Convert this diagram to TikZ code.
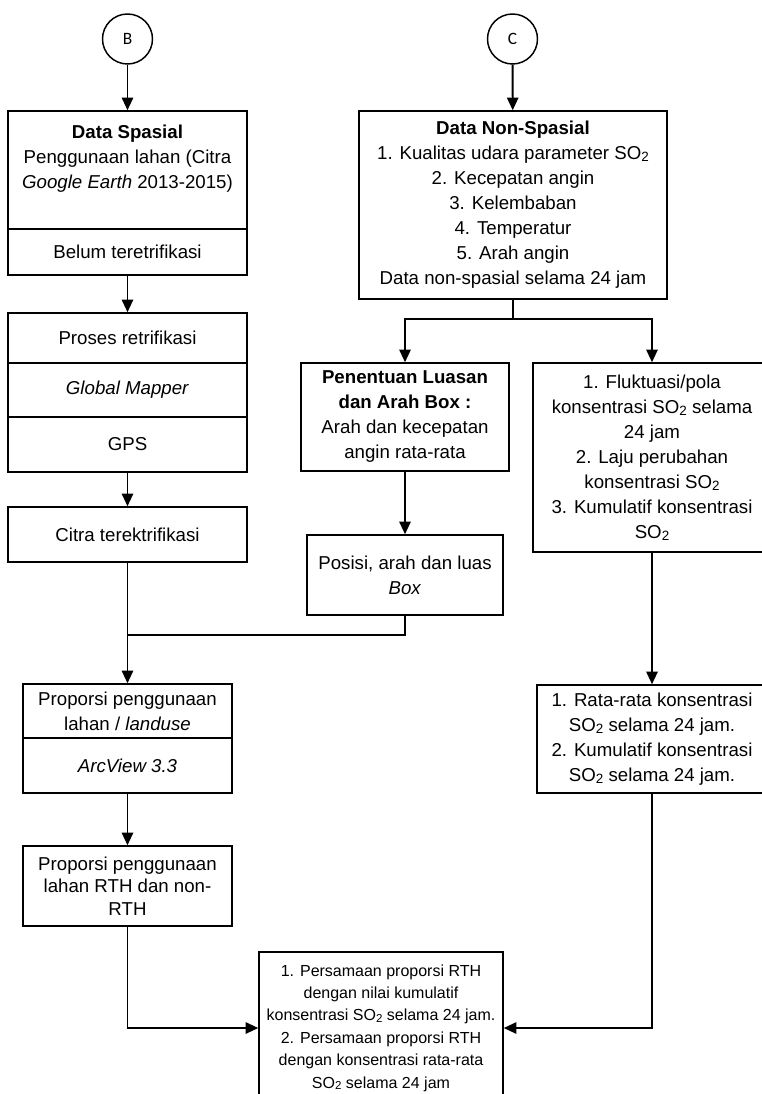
\documentclass[tikz,border=0pt]{standalone}
\usepackage{fontspec}
\setmainfont{Liberation Sans}
\newfontfamily\circfont{Carlito}
\usetikzlibrary{arrows.meta}
\newcommand{\sotwo}{SO\raisebox{-0.1em}{\scalebox{0.72}{2}}}
\begin{document}
\begin{tikzpicture}[x=0.75pt,y=-0.75pt,
  box/.style={draw, line width=1.1pt, rectangle, inner sep=0pt, align=center, font=\fontsize{14}{18.75}\selectfont},
  conn/.style={draw, line width=1.4pt},
  arr/.style={conn, -{Triangle[width=8.5pt,length=9.5pt]}},
  circ/.style={draw, circle, line width=1.1pt, minimum size=37.5pt, inner sep=0pt, font=\circfont\fontsize{13}{13}\selectfont}
]
\useasboundingbox (0,0) rectangle (762,1094);
\clip (0,0) rectangle (762,1094);

% connectors' circles
\node[circ] (B) at (127.5,39) {B};
\node[circ] (C) at (512.5,39) {C};

% left column
\node[box, minimum width=179.25pt, minimum height=88.5pt] (L1a) at (127.5,170)
  {\parbox[c][88.5pt][t]{179pt}{\centering\rule{0pt}{20.5pt}\textbf{Data Spasial}\\
   Penggunaan lahan (Citra\\ \textit{Google Earth} 2013-2015)}};
\node[box, minimum width=179.25pt, minimum height=34.5pt] (L1b) at (127.5,252) {Belum teretrifikasi};

\node[box, minimum width=179.25pt, minimum height=37.5pt] (L2a) at (127.5,338) {Proses retrifikasi};
\node[box, minimum width=179.25pt, minimum height=40.5pt] (L2b) at (127.5,390) {\textit{Global Mapper}};
\node[box, minimum width=179.25pt, minimum height=41.25pt] (L2c) at (127.5,444.5) {GPS};

\node[box, minimum width=179.25pt, minimum height=41.25pt] (L3) at (127.5,534.5) {Citra terektrifikasi};

\node[box, minimum width=156.75pt, minimum height=40.5pt] (L4a) at (127.5,711) {Proporsi penggunaan\\ lahan / \textit{landuse}};
\node[box, minimum width=156.75pt, minimum height=41.25pt] (L4b) at (127.5,765.5) {\textit{ArcView 3.3}};

\node[box, minimum width=156.75pt, minimum height=60pt, font=\fontsize{14}{16.9}\selectfont] (L5) at (127.5,886)
  {Proporsi penggunaan\\ lahan RTH dan non-\\ RTH};

% middle column
\node[box, minimum width=231pt, minimum height=141pt] (M1) at (513,205)
  {\textbf{Data Non-Spasial}\\ 1. Kualitas udara parameter \sotwo\\ 2. Kecepatan angin\\ 3. Kelembaban\\
   4. Temperatur\\ 5. Arah angin\\ Data non-spasial selama 24 jam};

\node[box, minimum width=156pt, minimum height=81pt] (M2) at (405,417)
  {\textbf{Penentuan Luasan}\\ \textbf{dan Arah Box :}\\ Arah dan kecepatan\\ angin rata-rata};

\node[box, minimum width=147pt, minimum height=60pt] (M3) at (405,575)
  {Posisi, arah dan luas\\ \textit{Box}};

% right column
\node[box, minimum width=178.5pt, minimum height=141.75pt] (R1) at (652,457.5)
  {1. Fluktuasi/pola\\ konsentrasi \sotwo{} selama\\ 24 jam\\ 2. Laju perubahan\\ konsentrasi \sotwo\\
   3. Kumulatif konsentrasi\\ \sotwo};

\node[box, minimum width=172.5pt, minimum height=81pt] (R2) at (652,739)
  {1. Rata-rata konsentrasi\\ \sotwo{} selama 24 jam.\\ 2. Kumulatif konsentrasi\\ \sotwo{} selama 24 jam.};

% bottom
\node[box, minimum width=183pt, minimum height=114pt, font=\fontsize{12}{16.8}\selectfont] (Bt) at (381,1028)
  {1. Persamaan proporsi RTH\\ dengan nilai kumulatif\\ konsentrasi \sotwo{} selama 24 jam.\\
   2. Persamaan proporsi RTH\\ dengan konsentrasi rata-rata\\ \sotwo{} selama 24 jam};

% junction points
\coordinate (J) at (127.5,635);
\coordinate (S) at (513,319);

% connectors
\draw[arr] (B) -- (L1a);
\draw[arr] (C) -- (M1);
\draw[arr] (L1b) -- (L2a);
\draw[arr] (L2c) -- (L3);
\draw[arr] (L3) -- (L4a);
\draw[conn] (M3.south) |- (J);
\draw[arr] (L4b) -- (L5);
\draw[arr] (L5.south) |- (Bt.west);
\draw[arr] (R2.south) |- (Bt.east);
\draw[conn] (M1.south) -- (S);
\draw[arr] (S) -| (M2.north);
\draw[arr] (S) -| (R1.north);
\draw[arr] (M2) -- (M3);
\draw[arr] (R1) -- (R2);
\end{tikzpicture}
\end{document}
